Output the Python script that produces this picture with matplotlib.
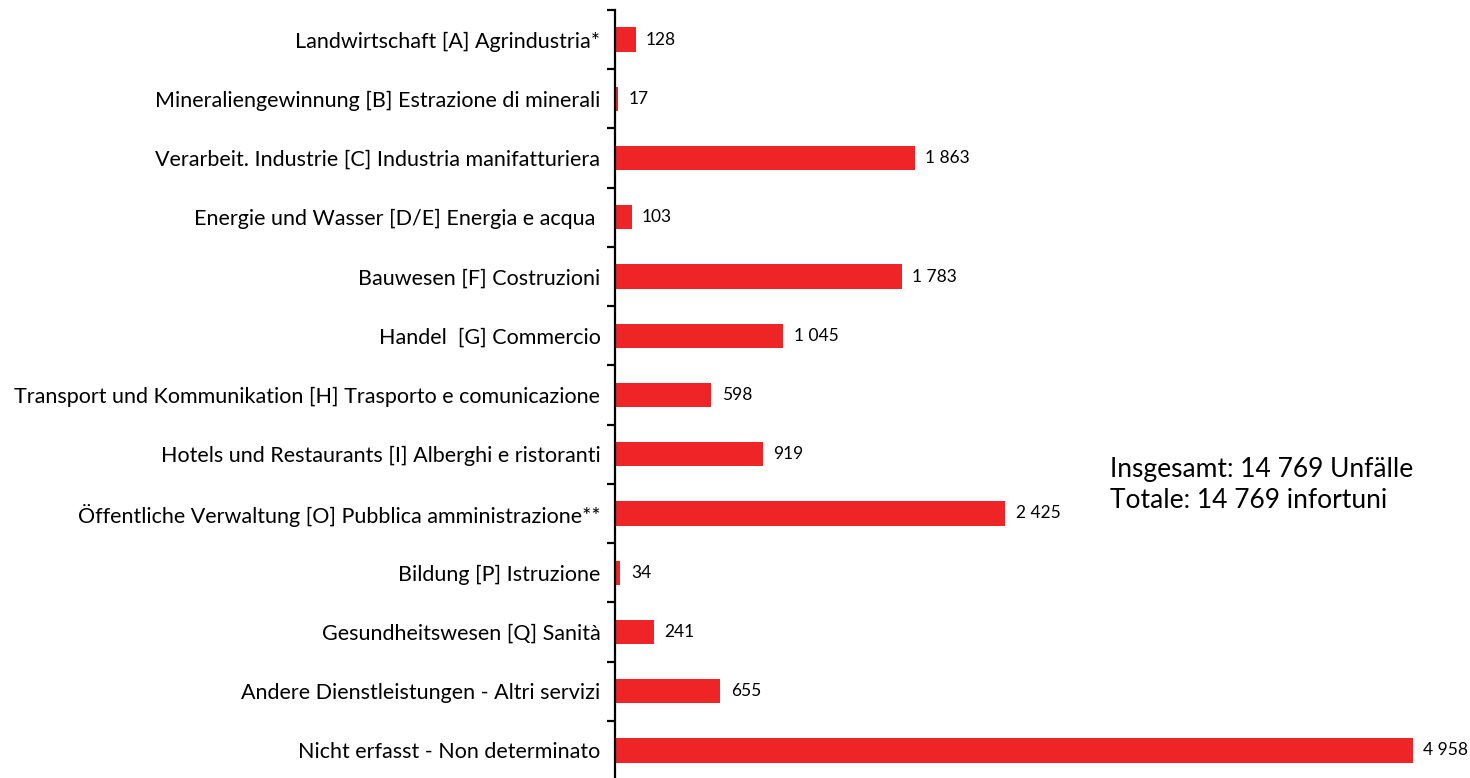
import matplotlib.pyplot as plt
import numpy as np

plt.rcParams['font.family'] = ['Lato', 'DejaVu Sans']

categories = [
    "Landwirtschaft [A] Agrindustria*",
    "Mineraliengewinnung [B] Estrazione di minerali",
    "Verarbeit. Industrie [C] Industria manifatturiera",
    "Energie und Wasser [D/E] Energia e acqua ",
    "Bauwesen [F] Costruzioni",
    "Handel  [G] Commercio",
    "Transport und Kommunikation [H] Trasporto e comunicazione",
    "Hotels und Restaurants [I] Alberghi e ristoranti",
    "Öffentliche Verwaltung [O] Pubblica amministrazione**",
    "Bildung [P] Istruzione",
    "Gesundheitswesen [Q] Sanità",
    "Andere Dienstleistungen - Altri servizi",
    "Nicht erfasst - Non determinato",
]
values = [128, 17, 1863, 103, 1783, 1045, 598, 919, 2425, 34, 241, 655, 4958]
total_text = "Insgesamt: 14 769 Unfälle\nTotale: 14 769 infortuni"

fig = plt.figure(figsize=(14.7, 7.78), dpi=100)
ax = fig.add_axes([615 / 1470, -2 / 778, 855 / 1470, 770 / 778])

y = np.arange(len(categories))
ax.barh(y, values, height=0.41, color='#EE2427')

ax.set_xlim(0, 5312)
ax.set_ylim(len(categories) - 0.5, -0.5)

for yi, v in zip(y, values):
    label = f"{v:,}".replace(",", " ")
    ax.annotate(label, (v, yi), xytext=(7.5, 0), textcoords='offset points',
                va='center', ha='left', fontsize=12.5, color='black')

for s in ['top', 'right', 'bottom']:
    ax.spines[s].set_visible(False)
ax.spines['left'].set_linewidth(1.6)
ax.xaxis.set_visible(False)

ax.set_yticks(y)
ax.set_yticklabels(categories, fontsize=15.5)
ax.tick_params(axis='y', which='major', length=0, pad=10.5)
ax.set_yticks(np.arange(-0.5, len(categories) + 0.5, 1), minor=True)
ax.tick_params(axis='y', which='minor', length=6, width=1.6, direction='out')

fig.text(1110 / 1470, 1 - 485 / 778, total_text, fontsize=19, va='center',
         ha='left', linespacing=1.32)

fig.savefig('out.png', dpi=100)
